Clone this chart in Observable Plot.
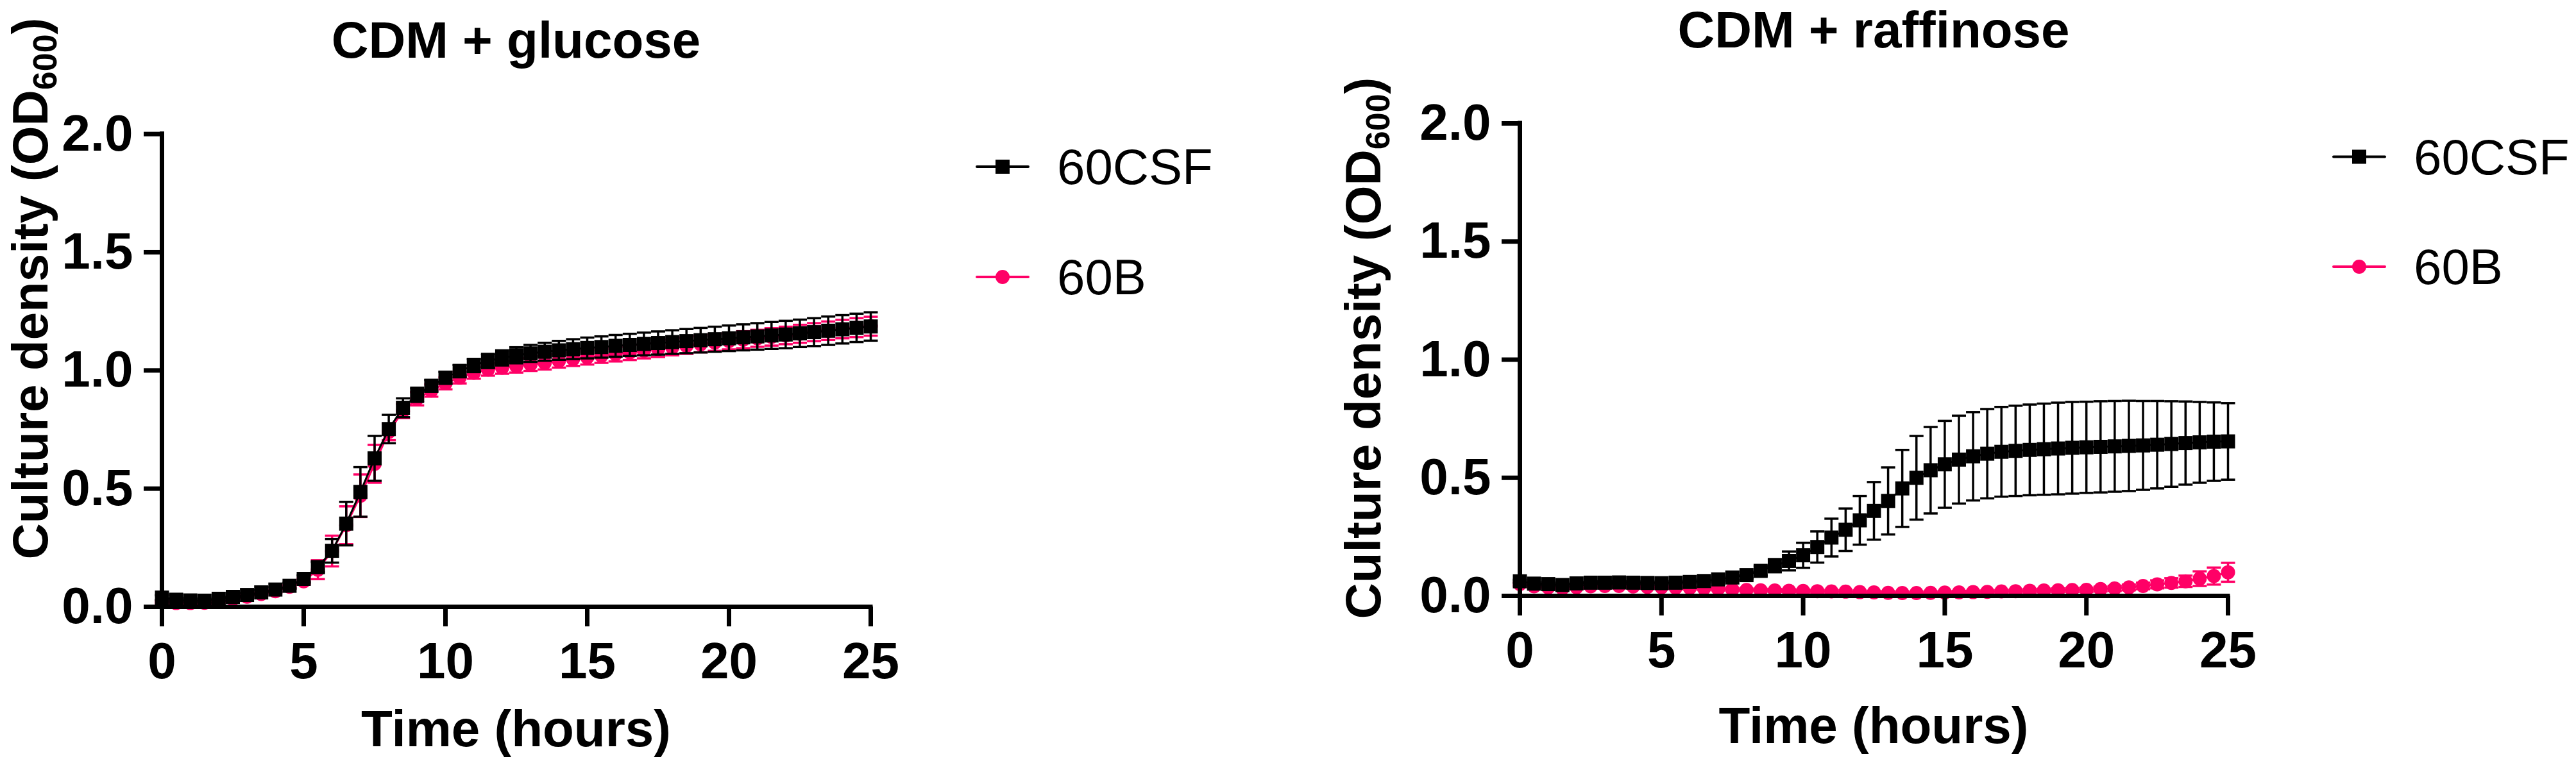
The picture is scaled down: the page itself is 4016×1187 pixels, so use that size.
<!DOCTYPE html>
<html><head><meta charset="utf-8">
<script src="https://cdn.jsdelivr.net/npm/d3@7"></script>
<script src="https://cdn.jsdelivr.net/npm/@observablehq/plot@0.6"></script>
<style>
html,body{margin:0;padding:0;background:#fff;}
#wrap{display:flex;width:4016px;height:1187px;overflow:hidden;}
#wrap svg{flex:none;display:block;}
</style></head><body><div id="wrap"></div>
<script>
// ---- data ----
const hours = [0,0.5,1,1.5,2,2.5,3,3.5,4,4.5,5,5.5,6,6.5,7,7.5,8,8.5,9,9.5,10,10.5,11,11.5,12,12.5,13,13.5,14,14.5,15,15.5,16,16.5,17,17.5,18,18.5,19,19.5,20,20.5,21,21.5,22,22.5,23,23.5,24,24.5,25];
const seriesNames = ["60CSF", "60B"];
const panelTitles = ["CDM + glucose", "CDM + raffinose"];
const xLabel = "Time (hours)";
const yLabelParts = ["Culture density (OD", "600", ")"];
const xTicks = [0, 5, 10, 15, 20, 25];
const yTicks = [0, 0.5, 1, 1.5, 2];
const yTickLabels = ["0.0", "0.5", "1.0", "1.5", "2.0"];
const seriesColors = ["#000000", "#ff0066"];

// CDM + glucose
const glucoseCSF = [0.039,0.030,0.027,0.026,0.034,0.042,0.050,0.061,0.073,0.089,0.118,0.168,0.237,0.352,0.486,0.628,0.752,0.842,0.897,0.935,0.969,0.997,1.021,1.040,1.053,1.064,1.072,1.079,1.085,1.090,1.095,1.099,1.104,1.108,1.112,1.116,1.120,1.124,1.128,1.132,1.136,1.140,1.144,1.148,1.152,1.157,1.162,1.168,1.174,1.180,1.186];
const glucoseCSFsd = [0.010,0.008,0.008,0.008,0.008,0.008,0.008,0.009,0.010,0.012,0.015,0.022,0.050,0.092,0.105,0.095,0.060,0.040,0.030,0.025,0.025,0.026,0.028,0.030,0.032,0.034,0.036,0.038,0.040,0.042,0.044,0.045,0.046,0.047,0.048,0.049,0.050,0.051,0.052,0.053,0.054,0.055,0.056,0.057,0.058,0.058,0.059,0.060,0.060,0.060,0.060];
const glucoseB = [0.020,0.016,0.016,0.017,0.024,0.033,0.043,0.054,0.066,0.085,0.108,0.157,0.236,0.345,0.470,0.605,0.740,0.828,0.880,0.915,0.945,0.970,0.990,1.004,1.012,1.018,1.025,1.032,1.040,1.048,1.055,1.062,1.069,1.076,1.083,1.090,1.097,1.104,1.111,1.118,1.124,1.130,1.136,1.142,1.148,1.155,1.162,1.168,1.175,1.181,1.187];
const glucoseBsd = [0.006,0.006,0.006,0.006,0.006,0.006,0.006,0.006,0.006,0.007,0.012,0.040,0.065,0.080,0.090,0.080,0.035,0.030,0.028,0.026,0.025,0.025,0.025,0.026,0.026,0.027,0.027,0.028,0.028,0.029,0.030,0.030,0.031,0.032,0.032,0.033,0.033,0.034,0.034,0.035,0.035,0.036,0.036,0.037,0.037,0.038,0.038,0.039,0.039,0.040,0.040];

// CDM + raffinose
const raffinoseCSF = [0.062,0.052,0.050,0.046,0.053,0.056,0.056,0.057,0.056,0.055,0.054,0.056,0.059,0.063,0.070,0.078,0.088,0.106,0.128,0.148,0.172,0.207,0.247,0.280,0.320,0.360,0.402,0.455,0.500,0.532,0.557,0.577,0.591,0.602,0.610,0.614,0.618,0.621,0.624,0.627,0.629,0.631,0.633,0.635,0.637,0.640,0.643,0.647,0.650,0.653,0.654];
const raffinoseCSFsd = [0.006,0.006,0.006,0.006,0.006,0.006,0.006,0.006,0.006,0.006,0.006,0.006,0.006,0.006,0.008,0.010,0.014,0.020,0.028,0.040,0.053,0.066,0.080,0.090,0.103,0.122,0.142,0.163,0.177,0.183,0.184,0.186,0.187,0.189,0.190,0.191,0.192,0.193,0.194,0.194,0.193,0.193,0.192,0.191,0.188,0.185,0.181,0.176,0.171,0.166,0.162];
const raffinoseB = [0.050,0.041,0.036,0.032,0.037,0.041,0.042,0.042,0.040,0.038,0.037,0.035,0.034,0.032,0.030,0.027,0.025,0.024,0.023,0.022,0.021,0.020,0.019,0.018,0.016,0.015,0.013,0.012,0.012,0.013,0.014,0.015,0.016,0.017,0.019,0.020,0.022,0.023,0.024,0.025,0.026,0.029,0.032,0.036,0.042,0.049,0.055,0.062,0.073,0.084,0.100];
const raffinoseBsd = [0.008,0.006,0.006,0.006,0.006,0.006,0.006,0.006,0.006,0.006,0.006,0.006,0.006,0.006,0.006,0.006,0.006,0.006,0.006,0.006,0.006,0.006,0.006,0.006,0.006,0.006,0.006,0.006,0.006,0.006,0.006,0.006,0.006,0.006,0.006,0.006,0.007,0.007,0.008,0.008,0.009,0.010,0.011,0.012,0.014,0.017,0.020,0.024,0.031,0.036,0.040];

// ---- build tables ----
function rows(mean, sd) { return hours.map((t, i) => ({t, v: mean[i], sd: sd[i]})); }
const panels = [
  {title: panelTitles[0], series: [rows(glucoseCSF, glucoseCSFsd), rows(glucoseB, glucoseBsd)],
   width: 2008, ml: 252, mr: 651, mt: 208.6, mb: 241,
   titleY: 90, xLabelY: 1164, yLabelX: 74, yLabelY: 450,
   legX: 1523, legY: [260, 432]},
  {title: panelTitles[1], series: [rows(raffinoseCSF, raffinoseCSFsd), rows(raffinoseB, raffinoseBsd)],
   width: 2008, ml: 361, mr: 543, mt: 192, mb: 258,
   titleY: 74, xLabelY: 1159, yLabelX: 2152 - 2008, yLabelY: 543,
   legX: 3638 - 2008, legY: [244.5, 416]}
];

const FONT = "'Liberation Sans', Arial, Helvetica, sans-serif";
const capSymbol = {draw(ctx, size) { const r = Math.sqrt(size / Math.PI); ctx.moveTo(-r, 0); ctx.lineTo(r, 0); }};

function seriesMarks(data, color, symbol, r) {
  return [
    Plot.line(data, {x: "t", y: "v", stroke: color, strokeWidth: 3}),
    Plot.ruleX(data, {x: "t", y1: d => d.v - d.sd, y2: d => d.v + d.sd, stroke: color, strokeWidth: 3.5}),
    Plot.dot(data, {x: "t", y: d => d.v + d.sd, symbol: capSymbol, r: 11, stroke: color, fill: "none", strokeWidth: 3.5}),
    Plot.dot(data, {x: "t", y: d => d.v - d.sd, symbol: capSymbol, r: 11, stroke: color, fill: "none", strokeWidth: 3.5}),
    Plot.dot(data, {x: "t", y: "v", symbol, r, fill: color, stroke: "none"})
  ];
}

const wrap = document.getElementById("wrap");
panels.forEach(p => {
  const svg = Plot.plot({
    width: p.width, height: 1187,
    marginLeft: p.ml, marginRight: p.mr, marginTop: p.mt, marginBottom: p.mb,
    x: {domain: [0, 25]},
    y: {domain: [0, 2]},
    style: {fontFamily: FONT, fontWeight: "bold", background: "#fff", overflow: "visible", color: "#000"},
    marks: [
      ...seriesMarks(p.series[1], seriesColors[1], "circle", 11),
      ...seriesMarks(p.series[0], seriesColors[0], "square", 12.4),
      Plot.ruleX([0], {y1: 0, y2: 2, stroke: "#000", strokeWidth: 7, strokeLinecap: "square"}),
      Plot.ruleY([0], {x1: 0, x2: 25, stroke: "#000", strokeWidth: 7, strokeLinecap: "square"}),
      Plot.axisX({ticks: xTicks, tickSize: 31, tickPadding: 24, strokeWidth: 7, fontSize: 80, fontWeight: "bold", fill: "#000", label: null, tickFormat: d => String(d)}),
      Plot.axisY({ticks: yTicks, tickSize: 28, tickPadding: 17, strokeWidth: 7, fontSize: 80, fontWeight: "bold", fill: "#000", label: null, tickFormat: d => yTickLabels[yTicks.indexOf(d)]})
    ]
  });
  const sx = svg.scale("x");
  const cx = (sx.apply(0) + sx.apply(25)) / 2;
  const s = d3.select(svg);
  // title
  s.append("text").attr("x", cx).attr("y", p.titleY).attr("text-anchor", "middle")
    .attr("font-family", FONT).attr("font-weight", "bold").attr("font-size", 80).attr("fill", "#000").text(p.title);
  // x label
  s.append("text").attr("x", cx).attr("y", p.xLabelY).attr("text-anchor", "middle")
    .attr("font-family", FONT).attr("font-weight", "bold").attr("font-size", 80).attr("fill", "#000").text(xLabel);
  // y label with subscript
  const yl = s.append("text").attr("transform", `translate(${p.yLabelX},${p.yLabelY}) rotate(-90)`)
    .attr("text-anchor", "middle").attr("font-family", FONT).attr("font-weight", "bold").attr("font-size", 78).attr("fill", "#000");
  yl.append("tspan").text(yLabelParts[0]);
  yl.append("tspan").attr("font-size", 52).attr("dy", 14).text(yLabelParts[1]);
  yl.append("tspan").attr("font-size", 78).attr("dy", -14).text(yLabelParts[2]);
  // legend
  const lg = s.append("g").attr("font-family", FONT).attr("font-weight", "normal").attr("text-anchor", "start");
  seriesNames.forEach((name, i) => {
    const y = p.legY[i], x0 = p.legX, color = seriesColors[i];
    lg.append("line").attr("x1", x0).attr("x2", x0 + 80).attr("y1", y).attr("y2", y)
      .attr("stroke", color).attr("stroke-width", 4).attr("stroke-linecap", "round");
    const sym = d3.symbol(i === 0 ? d3.symbolSquare : d3.symbolCircle, i === 0 ? 22 * 22 : Math.PI * 11 * 11);
    lg.append("path").attr("d", sym()).attr("transform", `translate(${x0 + 40},${y})`).attr("fill", color);
    lg.append("text").attr("x", x0 + 125).attr("y", y + 27).attr("text-anchor", "start")
      .attr("font-size", 78).attr("fill", "#000").text(name);
  });
  wrap.appendChild(svg);
});
</script></body></html>
